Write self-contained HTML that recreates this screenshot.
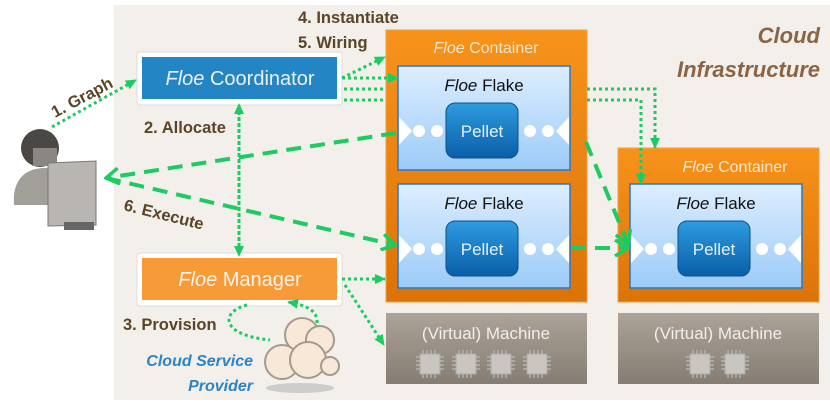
<!DOCTYPE html>
<html><head><meta charset="utf-8"><style>
html,body{margin:0;padding:0;background:#fff;width:830px;height:403px;overflow:hidden}
text{font-family:"Liberation Sans",sans-serif}
</style></head><body>
<svg width="830" height="403" viewBox="0 0 830 403" xmlns="http://www.w3.org/2000/svg">
<defs>
<linearGradient id="fl" x1="0" y1="0" x2="0" y2="1"><stop offset="0" stop-color="#ddeeff"/><stop offset="1" stop-color="#9ccbf8"/></linearGradient>
<linearGradient id="pe" x1="0" y1="0" x2="0" y2="1"><stop offset="0" stop-color="#2e9be0"/><stop offset="1" stop-color="#0a5fa8"/></linearGradient>
<linearGradient id="or" x1="0" y1="0" x2="0" y2="1"><stop offset="0" stop-color="#f7931b"/><stop offset="1" stop-color="#dc7308"/></linearGradient>
<linearGradient id="vm" x1="0" y1="0" x2="0" y2="1"><stop offset="0" stop-color="#ada398"/><stop offset="1" stop-color="#857d73"/></linearGradient>
<marker id="a" markerWidth="12" markerHeight="12" refX="10" refY="6" orient="auto" markerUnits="userSpaceOnUse"><path d="M0,1L11,6L0,11z" fill="#1ecb62"/></marker>
<marker id="v" markerWidth="16" markerHeight="18" refX="14" refY="9" orient="auto" markerUnits="userSpaceOnUse"><path d="M1,1L14,9L1,17" fill="none" stroke="#1ecb62" stroke-width="3.5"/></marker>
<g id="chip"><rect x="-10" y="-10" width="20" height="20" fill="#c9c5c0" stroke="#aaa"/><path d="M-7,-14v4M-3,-14v4M1,-14v4M5,-14v4M-7,10v4M-3,10v4M1,10v4M5,10v4M-14,-7h4M-14,-3h4M-14,1h4M-14,5h4M10,-7h4M10,-3h4M10,1h4M10,5h4" stroke="#bbb" stroke-width="1.2"/></g>
</defs>
<rect x="114" y="5" width="716" height="395" fill="#f3efeb"/>
<text x="820" y="43" font-size="22" font-weight="bold" font-style="italic" fill="#8a6445" text-anchor="end">Cloud</text>
<text x="820" y="77" font-size="22" font-weight="bold" font-style="italic" fill="#8a6445" text-anchor="end">Infrastructure</text>

<rect x="386" y="30" width="201" height="272" fill="url(#or)" stroke="#f0a040"/>
<text x="486" y="53" font-size="16" fill="#fbe6cc" text-anchor="middle"><tspan font-style="italic">Floe</tspan> Container</text>
<rect x="618" y="148" width="201" height="154" fill="url(#or)" stroke="#f0a040"/>
<text x="735" y="172" font-size="16" fill="#fbe6cc" text-anchor="middle"><tspan font-style="italic">Floe</tspan> Container</text>

<g id="flake">
<rect x="398" y="66" width="172" height="104" fill="url(#fl)" stroke="#2a78c4" stroke-width="1.5"/>
<text x="484" y="91" font-size="17" fill="#111" text-anchor="middle"><tspan font-style="italic">Floe</tspan> Flake</text>
<path d="M399,117L412,131L399,145z M569,117L556,131L569,145z" fill="#fff"/>
<circle cx="419" cy="131" r="6" fill="#fff"/><circle cx="437" cy="131" r="6" fill="#fff"/>
<circle cx="530" cy="131" r="6" fill="#fff"/><circle cx="548" cy="131" r="6" fill="#fff"/>
<rect x="446" y="103" width="72" height="55" rx="9" fill="url(#pe)" stroke="#0a4e8a"/>
<text x="482" y="137" font-size="17" fill="#e4f0fa" text-anchor="middle">Pellet</text>
</g>
<use href="#flake" transform="translate(0,118)"/>
<use href="#flake" transform="translate(232,118)"/>

<rect x="386" y="313" width="201" height="71" fill="url(#vm)"/>
<text x="486" y="339" font-size="17" fill="#f2eee9" text-anchor="middle">(Virtual) Machine</text>
<use href="#chip" x="430" y="364"/><use href="#chip" x="466" y="364"/><use href="#chip" x="501" y="364"/><use href="#chip" x="537" y="364"/>
<rect x="618" y="313" width="201" height="71" fill="url(#vm)"/>
<text x="718" y="339" font-size="17" fill="#f2eee9" text-anchor="middle">(Virtual) Machine</text>
<use href="#chip" x="700" y="364"/><use href="#chip" x="735" y="364"/>

<rect x="137" y="52" width="205" height="53" rx="3" fill="#fff" stroke="#ddd"/>
<rect x="142" y="57" width="195" height="42" fill="#2485c5"/>
<text x="240" y="85" font-size="20" fill="#e8f2fa" text-anchor="middle"><tspan font-style="italic">Floe</tspan> Coordinator</text>
<rect x="137" y="253" width="205" height="53" rx="3" fill="#fff" stroke="#ddd"/>
<rect x="142" y="258" width="195" height="42" fill="#f79a38"/>
<text x="240" y="286" font-size="20" fill="#fff4e8" text-anchor="middle"><tspan font-style="italic">Floe</tspan> Manager</text>

<g fill="none" stroke="#1ecb62" stroke-width="3" stroke-dasharray="3,3">
<path d="M52,127L136,80" marker-end="url(#a)"/>
<path d="M342,78L385,57" marker-end="url(#a)"/>
<path d="M342,78L398,78" marker-end="url(#a)"/>
<path d="M344,89L386,89M587,89L655,89L655,148" marker-end="url(#a)"/>
<path d="M344,100L386,100M587,100L641,100L641,184" marker-end="url(#a)"/>
<path d="M239,112L239,256" marker-end="url(#a)"/>
<path d="M239,246L239,104" marker-end="url(#a)"/>
<path d="M342,279L385,279" marker-end="url(#a)"/>
<path d="M345,285L384,345" marker-end="url(#a)"/>
<path d="M247,305C220,312 220,335 270,340"/>
<path d="M317,323C318,310 305,305 288,302" marker-end="url(#a)"/>
</g>
<g fill="none" stroke="#1ecb62" stroke-width="4" stroke-dasharray="15,9">
<path d="M396,133L106,178" marker-end="url(#v)"/>
<path d="M106,178L395,245" marker-end="url(#v)"/>
<path d="M586,142L628,244" marker-end="url(#v)"/>
<path d="M571,248L628,248" marker-end="url(#v)"/>
</g>

<g font-size="16.5" font-weight="bold" fill="#5a4526">
<text x="298" y="23">4. Instantiate</text>
<text x="298" y="48">5. Wiring</text>
<text x="144" y="133">2. Allocate</text>
<text x="123" y="210" transform="rotate(14 123 210)">6. Execute</text>
<text x="123" y="330">3. Provision</text>
<text x="55" y="118" transform="rotate(-28 55 118)">1. Graph</text>
</g>
<g font-size="16" font-weight="bold" font-style="italic" fill="#2a84c6" text-anchor="end">
<text x="253" y="366">Cloud Service</text>
<text x="253" y="391">Provider</text>
</g>

<g fill="#f7e8d8" stroke="#a59b8c" stroke-width="2">
<circle cx="302" cy="335" r="17"/><circle cx="320" cy="340" r="14"/>
<circle cx="282" cy="362" r="17"/><circle cx="308" cy="360" r="18"/><circle cx="330" cy="366" r="9"/>
</g>
<ellipse cx="300" cy="388" rx="34" ry="5" fill="#ccc"/>

<circle cx="40" cy="148" r="19" fill="#4a4744"/>
<path d="M33,148h24v18h-24z" fill="#8a8782"/>
<path d="M14,205C12,180 25,168 45,168C60,168 66,180 66,205z" fill="#a29e98"/>
<path d="M48,163L96,161L96,225L48,226z" fill="#b9b6b1" stroke="#777"/>
<path d="M64,222h30v8h-30z" fill="#666"/>
</svg>
</body></html>
